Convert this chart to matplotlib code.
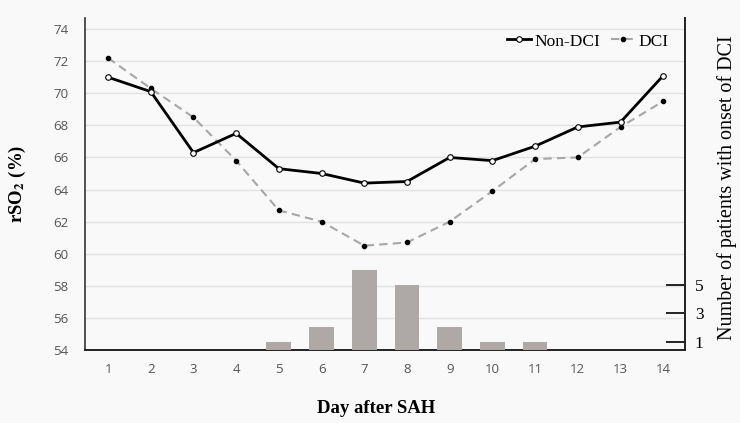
import matplotlib
matplotlib.use("Agg")
import matplotlib.pyplot as plt

days = list(range(1, 15))
non_dci = [71.0, 70.1, 66.3, 67.5, 65.3, 65.0, 64.4, 64.5, 66.0, 65.8, 66.7, 67.9, 68.2, 71.1]
dci = [72.2, 70.3, 68.5, 65.8, 62.7, 62.0, 60.5, 60.7, 62.0, 63.9, 65.9, 66.0, 67.9, 69.5]
onset_days = [5, 6, 7, 8, 9, 10, 11]
onset_counts = [1, 2, 6, 5, 2, 1, 1]
left_ticks = [54, 56, 58, 60, 62, 64, 66, 68, 70, 72, 74]
right_ticks = [1, 3, 5]

plt.rcParams['mathtext.fontset'] = 'stix'
serif = ['Liberation Serif', 'DejaVu Serif']
sans = ['Open Sans', 'DejaVu Sans']

fig = plt.figure(figsize=(7.4, 4.23), dpi=100, facecolor='#f9f9f9')
ax = fig.add_axes([85/740, 1-350/423, 600/740, 332/423])
ax.set_facecolor('#f9f9f9')

ax.set_xlim(0.46, 14.51)
ax.set_ylim(54, 74.69)
ax.set_yticks(left_ticks)
ax.set_xticks(days)
ax.grid(axis='y', color='#e2e2e2', linewidth=1.0)
ax.set_axisbelow(True)
for lab in ax.get_xticklabels() + ax.get_yticklabels():
    lab.set_family(sans)
    lab.set_fontsize(9.5)
    lab.set_color('#555555')
ax.tick_params(axis='y', length=0, pad=12)
ax.tick_params(axis='x', length=0, pad=9)
ax.spines['top'].set_visible(False)
ax.spines['right'].set_visible(False)
ax.spines['left'].set_color('#333333')
ax.spines['left'].set_linewidth(1.2)
ax.spines['bottom'].set_color('#222222')
ax.spines['bottom'].set_linewidth(1.4)

l1, = ax.plot(days, non_dci, color='black', lw=2.0, marker='o', ms=4,
              mfc='white', mec='black', mew=0.8, zorder=4, label='Non-DCI')
l2, = ax.plot(days, dci, color='#a6a6a6', lw=1.5, ls=(0, (4, 2.5)), marker='o', ms=3,
              mfc='black', mec='black', zorder=3, label='DCI')

ax2 = ax.twinx()
ax2.set_ylim(0.42, 23.7)
ax2.bar(onset_days, onset_counts, width=0.58, color='#aea9a7', zorder=2)
ax2.set_yticks(right_ticks)
ax2.set_yticklabels([str(t) for t in right_ticks], family=serif, fontsize=12.5)
ax2.tick_params(axis='y', direction='in', length=14, width=1.2, pad=7, colors='black')
for s in ['top', 'left', 'bottom']:
    ax2.spines[s].set_visible(False)
ax2.spines['right'].set_color('#222222')
ax2.spines['right'].set_linewidth(1.4)

ax.set_ylabel(r'rSO$_{\mathbf{2}}$ (%)', family=serif, fontsize=13.5, fontweight='bold')
ax.yaxis.set_label_coords(-0.095, 0.5)
ax.set_xlabel('Day after SAH', family=serif, fontsize=13.5, fontweight='bold')
ax.xaxis.set_label_coords(0.485, -0.15)
ax2.set_ylabel('Number of patients with onset of DCI', family=serif, fontsize=14.5)
ax2.yaxis.set_label_coords(1.053, 0.49)

leg = ax.legend(handles=[l1, l2], loc='upper right', ncol=2, frameon=False,
                prop={'family': serif, 'size': 12.5}, handlelength=1.4,
                handletextpad=0.2, columnspacing=0.6,
                bbox_to_anchor=(0.99, 0.985), borderaxespad=0.2)

fig.savefig('out.png', dpi=100, facecolor=fig.get_facecolor())
